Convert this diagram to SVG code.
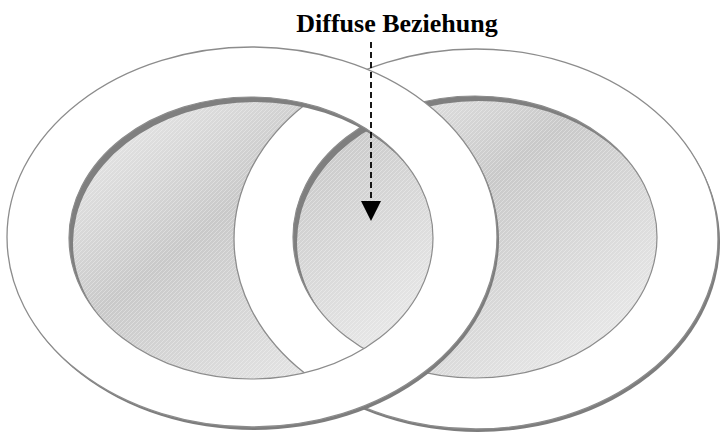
<svg xmlns="http://www.w3.org/2000/svg" width="721" height="434" viewBox="0 0 721 434">
<style>
.outer{fill:#fff;stroke:#8c8c8c;stroke-width:1.3}
.oshadow{fill:#7d7d7d}
.inner{fill:url(#grad)}
.hatch{fill:url(#hatch)}
.rim{fill:#7f7f7f;fill-rule:evenodd}
.iline{fill:none;stroke:#8c8c8c;stroke-width:1.2}
.label{font-family:"Liberation Serif","Times New Roman",serif;font-weight:bold;font-size:26px;fill:#000}
.arrow{stroke:#000;stroke-width:1.8;stroke-dasharray:6 4;fill:none}
</style>
<defs>
<linearGradient id="grad" x1="0" y1="0" x2="1" y2="1">
<stop offset="0" stop-color="#efefef"/>
<stop offset="0.42" stop-color="#c9c9c9"/>
<stop offset="1" stop-color="#f0f0f0"/>
</linearGradient>
<pattern id="hatch" width="4" height="4" patternUnits="userSpaceOnUse">
<path d="M-1,1 L1,-1 M0,4 L4,0 M3,5 L5,3" stroke="#fff" stroke-opacity="0.4" stroke-width="0.8"/>
</pattern>
<clipPath id="clipLI"><ellipse cx="251" cy="238" rx="182" ry="141"/></clipPath>
<clipPath id="clipRI"><ellipse cx="475" cy="237" rx="182" ry="141"/></clipPath>
<marker id="ah" viewBox="0 0 20 20" refX="0" refY="10" markerWidth="20" markerHeight="20" markerUnits="userSpaceOnUse" orient="auto"><path d="M0,0 L20,10 L0,20 Z" fill="#000"/></marker>
</defs>

<g id="right-circle">
<ellipse class="oshadow" cx="478" cy="242" rx="242" ry="190"/>
<ellipse class="outer" cx="476" cy="239" rx="242" ry="190"/>
<ellipse class="inner" cx="475" cy="237" rx="182" ry="141"/>
<ellipse class="hatch" cx="475" cy="237" rx="182" ry="141"/>
<g clip-path="url(#clipRI)"><path class="rim" d="M0,0H721V434H0Z M297,242 a182,141 0 1,0 364,0 a182,141 0 1,0 -364,0 Z"/></g>
<ellipse class="iline" cx="475" cy="237" rx="182" ry="141"/>
</g>

<g id="left-circle">
<ellipse class="oshadow" cx="254" cy="240" rx="245" ry="190"/>
<ellipse class="outer" cx="252" cy="237" rx="245" ry="190"/>
<ellipse class="inner" cx="251" cy="238" rx="182" ry="141"/>
<ellipse class="hatch" cx="251" cy="238" rx="182" ry="141"/>
<g clip-path="url(#clipLI)">
<path d="M234,239 a242,190 0 1,0 484,0 a242,190 0 1,0 -484,0 Z M293,237 a182,141 0 1,0 364,0 a182,141 0 1,0 -364,0 Z" fill="#fff" fill-rule="evenodd"/>
<ellipse cx="476" cy="239" rx="242" ry="190" fill="none" stroke="#8c8c8c" stroke-width="1.3"/>
<g clip-path="url(#clipRI)"><path class="rim" d="M0,0H721V434H0Z M297,242 a182,141 0 1,0 364,0 a182,141 0 1,0 -364,0 Z"/></g>
<ellipse class="iline" cx="475" cy="237" rx="182" ry="141"/>
</g>
<g clip-path="url(#clipLI)"><path class="rim" d="M0,0H721V434H0Z M73,243 a182,141 0 1,0 364,0 a182,141 0 1,0 -364,0 Z"/></g>
<ellipse class="iline" cx="251" cy="238" rx="182" ry="141"/>
</g>

<g id="connectors">
<line class="arrow" x1="371" y1="42" x2="371" y2="201" marker-end="url(#ah)"/>
</g>

<g id="label">
<text class="label" x="397" y="32" text-anchor="middle">Diffuse Beziehung</text>
</g>
</svg>
